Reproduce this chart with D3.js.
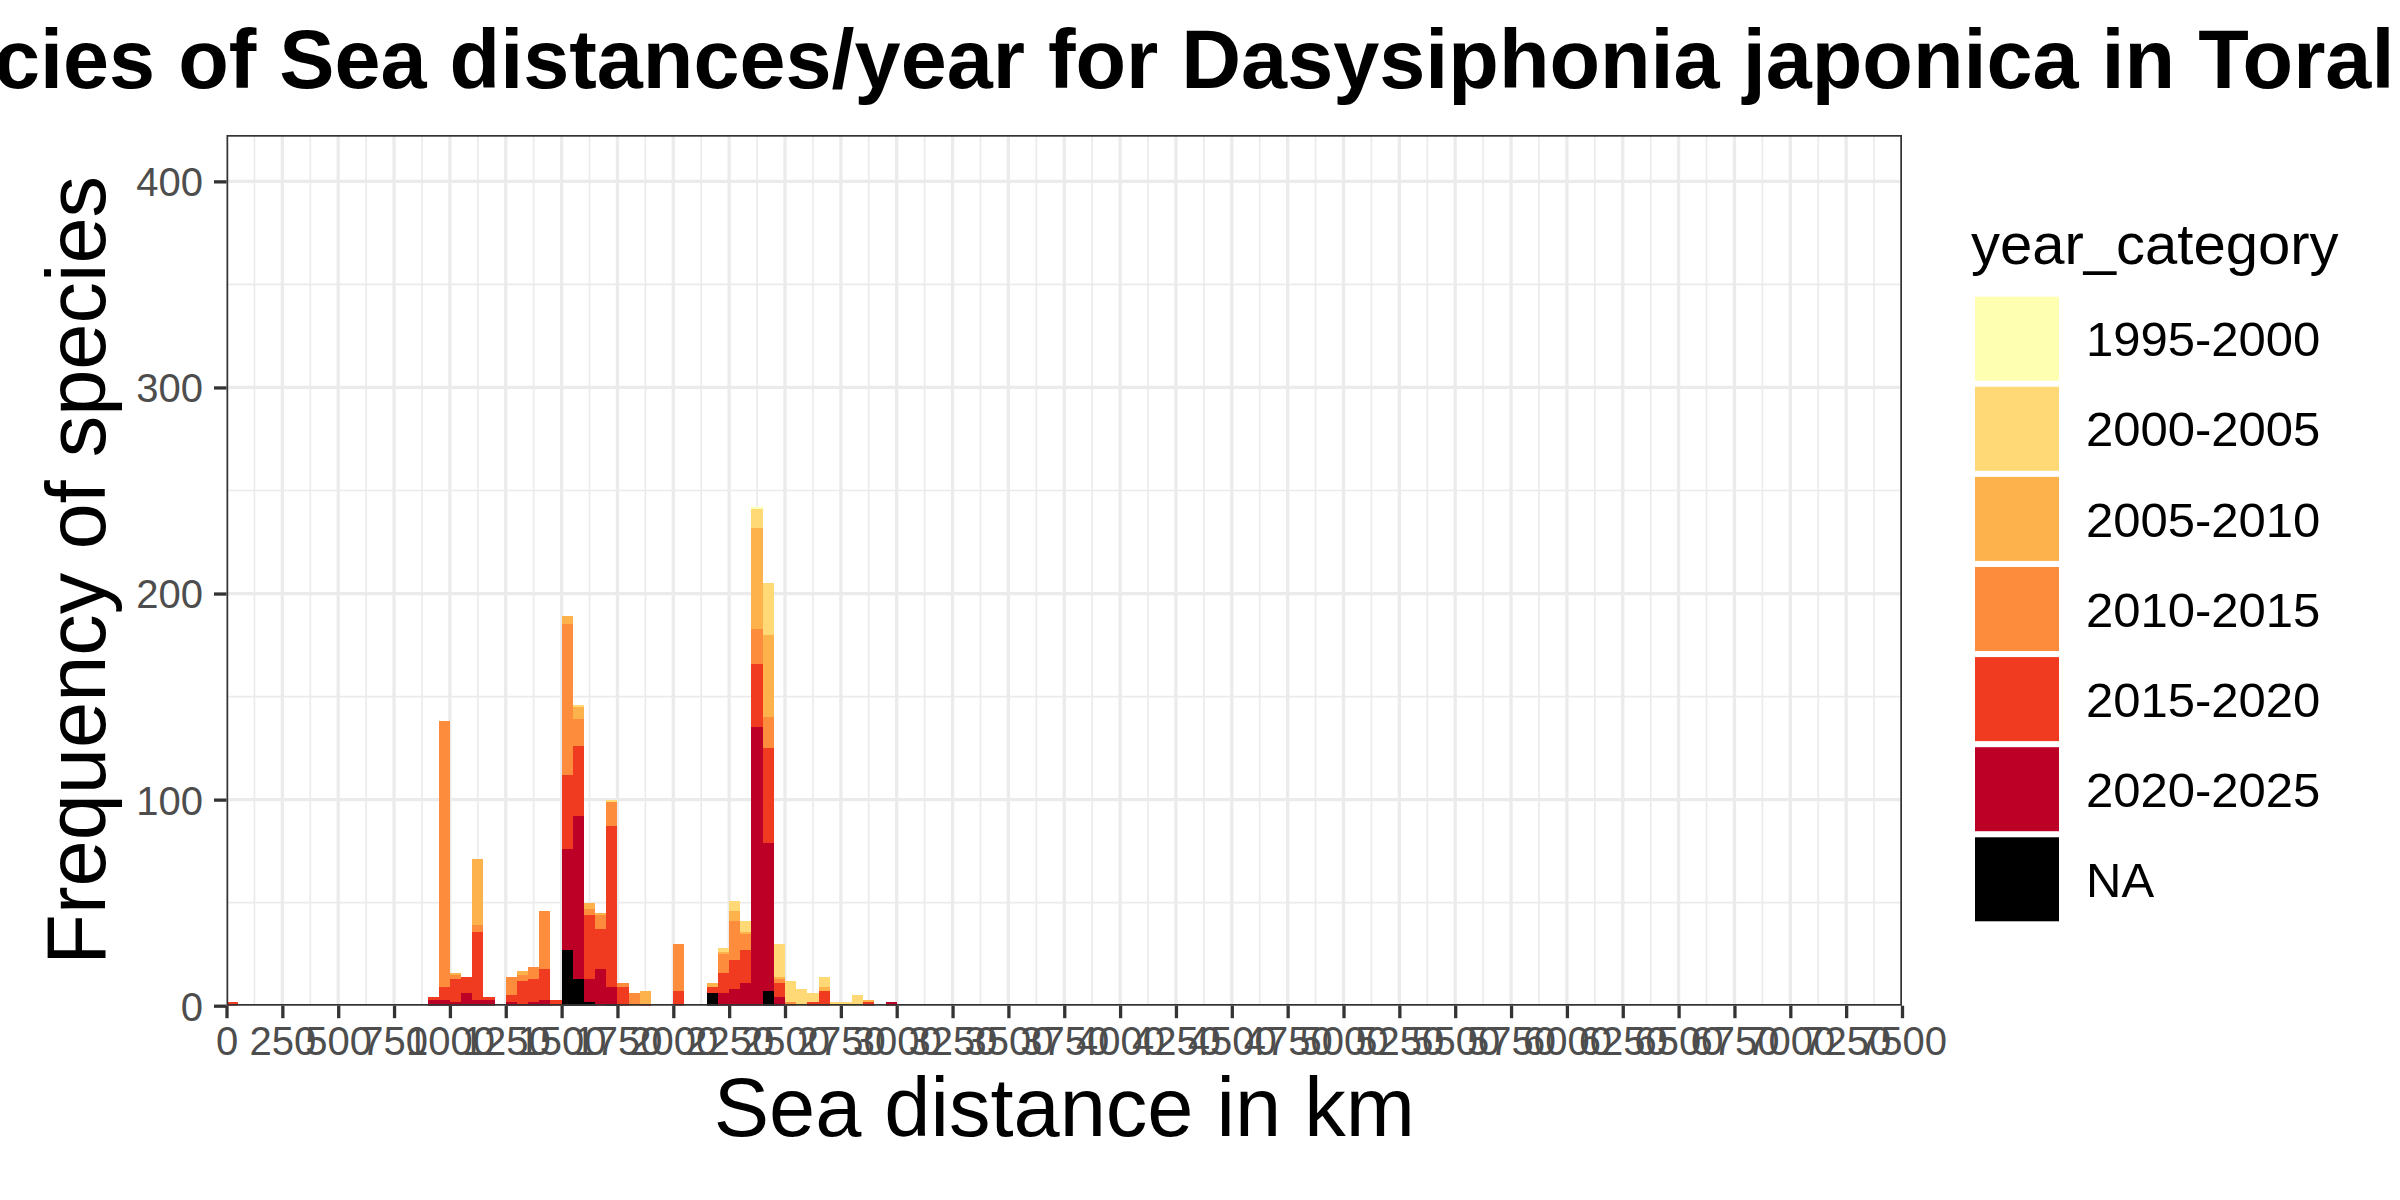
<!DOCTYPE html>
<html>
<head>
<meta charset="utf-8">
<script src="https://cdn.jsdelivr.net/npm/d3@7"></script>
<style>
  html, body { margin: 0; padding: 0; background: #ffffff; }
  svg { display: block; }
  text { font-family: "Liberation Sans", Arial, Helvetica, sans-serif; }
</style>
</head>
<body>
<svg id="chart" width="2400" height="1200"></svg>
<script>
// ---------------- DATA ----------------
const titleText = "Frequency of species of Sea distances/year for Dasysiphonia japonica in Toral de los Guzmanes";
const xTitle = "Sea distance in km";
const yTitle = "Frequency of species";
const legendTitle = "year_category";

// Legend order (top to bottom) and colours
const categories = ["1995-2000", "2000-2005", "2005-2010", "2010-2015", "2015-2020", "2020-2025", "NA"];
const categoryColors = ["#FFFFB2", "#FED976", "#FEB24C", "#FD8D3C", "#F03B20", "#BD0026", "#000000"];

// Histogram bins: left edge (km), bin width 50 km
const binWidth = 50;
const binStarts = [0, 900, 950, 1000, 1050, 1100, 1150, 1250, 1300, 1350, 1400, 1450,
  1500, 1550, 1600, 1650, 1700, 1750, 1800, 1850, 2000, 2150, 2200, 2250, 2300,
  2350, 2400, 2450, 2500, 2550, 2600, 2650, 2700, 2750, 2800, 2850, 2950];

// Counts per category for each bin (same order as binStarts)
const countsNA        = [0, 0, 0, 0, 0, 0, 0, 0, 0, 0, 0, 0, 27, 13, 2, 0, 1, 0, 0, 0, 0, 6, 0, 0, 0, 0, 7, 0, 0, 0, 0, 0, 0, 0, 0, 0, 0];
const counts2020_2025 = [0, 3, 3, 2, 6, 3, 3, 2, 1, 2, 3, 0, 49, 79, 11, 18, 8, 0, 0, 0, 0, 0, 6, 8, 11, 135, 72, 4, 0, 0, 0, 0, 0, 0, 0, 0, 2];
const counts2015_2020 = [2, 1, 6, 11, 8, 33, 1, 3, 11, 11, 15, 3, 36, 34, 31, 19, 78, 9, 0, 1, 7, 3, 10, 14, 16, 31, 46, 7, 0, 0, 2, 7, 0, 0, 0, 2, 0];
const counts2010_2015 = [0, 0, 129, 2, 0, 3, 0, 9, 3, 6, 28, 0, 73, 13, 3, 7, 12, 2, 6, 0, 23, 0, 9, 19, 8, 17, 15, 2, 2, 0, 0, 0, 0, 0, 0, 0, 0];
const counts2005_2010 = [0, 0, 0, 1, 0, 32, 0, 0, 2, 0, 0, 0, 4, 6, 3, 1, 0, 0, 0, 6, 0, 2, 1, 5, 1, 49, 40, 1, 0, 0, 0, 2, 0, 0, 0, 1, 0];
const counts2000_2005 = [0, 0, 0, 0, 0, 0, 0, 0, 0, 0, 0, 0, 0, 1, 0, 0, 1, 0, 0, 0, 0, 0, 2, 5, 5, 9, 25, 16, 10, 8, 4, 5, 2, 2, 5, 0, 0];
const counts1995_2000 = [0, 0, 0, 0, 0, 0, 0, 0, 0, 0, 0, 0, 0, 0, 0, 0, 0, 0, 0, 0, 0, 0, 0, 0, 0, 1, 0, 0, 0, 0, 0, 0, 0, 0, 0, 0, 0];

const xTicks = d3.range(0, 7501, 250);
const xMinor = d3.range(125, 7500, 250);
const yTicks = [0, 100, 200, 300, 400];
const yMinor = [50, 150, 250, 350];
const xDomain = [0, 7500];
const yDomain = [0, 422.5];

// ---------------- LAYOUT ----------------
const panel = { left: 226.5, right: 1902, top: 135, bottom: 1005.7 };
const svg = d3.select("#chart");
svg.append("rect").attr("width", 2400).attr("height", 1200).attr("fill", "#ffffff");

const x = d3.scaleLinear().domain(xDomain).range([panel.left, panel.right]);
const y = d3.scaleLinear().domain(yDomain).range([panel.bottom, panel.top]);

// Build rows for the stack
const seriesByCat = {
  "NA": countsNA, "2020-2025": counts2020_2025, "2015-2020": counts2015_2020,
  "2010-2015": counts2010_2015, "2005-2010": counts2005_2010,
  "2000-2005": counts2000_2005, "1995-2000": counts1995_2000
};
const rows = binStarts.map((b, i) => {
  const r = { bin: b };
  categories.forEach(c => { r[c] = seriesByCat[c][i]; });
  return r;
});
const stackKeys = categories.slice().reverse(); // NA at bottom, 1995-2000 on top
const stacked = d3.stack().keys(stackKeys)(rows);
const color = d3.scaleOrdinal().domain(categories).range(categoryColors);

// Clip for panel
svg.append("defs").append("clipPath").attr("id", "panelClip")
  .append("rect").attr("x", panel.left).attr("y", panel.top)
  .attr("width", panel.right - panel.left).attr("height", panel.bottom - panel.top);

const gPanel = svg.append("g").attr("clip-path", "url(#panelClip)");
const gridColor = "#EBEBEB";

// minor grid
gPanel.selectAll(".xminor").data(xMinor).enter().append("line")
  .attr("x1", d => x(d)).attr("x2", d => x(d))
  .attr("y1", panel.top).attr("y2", panel.bottom)
  .attr("stroke", gridColor).attr("stroke-width", 1.65);
gPanel.selectAll(".yminor").data(yMinor).enter().append("line")
  .attr("x1", panel.left).attr("x2", panel.right)
  .attr("y1", d => y(d)).attr("y2", d => y(d))
  .attr("stroke", gridColor).attr("stroke-width", 1.65);
// major grid
gPanel.selectAll(".xmajor").data(xTicks).enter().append("line")
  .attr("x1", d => x(d)).attr("x2", d => x(d))
  .attr("y1", panel.top).attr("y2", panel.bottom)
  .attr("stroke", gridColor).attr("stroke-width", 3.3);
gPanel.selectAll(".ymajor").data(yTicks).enter().append("line")
  .attr("x1", panel.left).attr("x2", panel.right)
  .attr("y1", d => y(d)).attr("y2", d => y(d))
  .attr("stroke", gridColor).attr("stroke-width", 3.3);

// bars
const gBars = gPanel.append("g");
stacked.forEach(layer => {
  gBars.append("g").attr("fill", color(layer.key))
    .selectAll("rect").data(layer.filter(d => d[1] > d[0])).enter().append("rect")
    .attr("x", d => x(d.data.bin))
    .attr("width", d => x(d.data.bin + binWidth) - x(d.data.bin))
    .attr("y", d => y(d[1]))
    .attr("height", d => y(d[0]) - y(d[1]))
    .attr("shape-rendering", "crispEdges");
});

// panel border
svg.append("rect")
  .attr("x", panel.left + 0.85).attr("y", panel.top + 0.85)
  .attr("width", panel.right - panel.left - 1.7).attr("height", panel.bottom - panel.top - 1.7)
  .attr("fill", "none").attr("stroke", "#333333").attr("stroke-width", 1.7);

// axes
const tickLen = 12.5;
const xAxis = d3.axisBottom(x).tickValues(xTicks).tickSize(tickLen).tickPadding(10).tickFormat(d3.format("d"));
const yAxis = d3.axisLeft(y).tickValues(yTicks).tickSize(tickLen).tickPadding(11).tickFormat(d3.format("d"));

const gx = svg.append("g").attr("transform", `translate(0,${panel.bottom})`).call(xAxis);
const gy = svg.append("g").attr("transform", `translate(${panel.left},0)`).call(yAxis);
[gx, gy].forEach(g => {
  g.select(".domain").remove();
  g.selectAll(".tick line").attr("stroke", "#333333").attr("stroke-width", 3.3);
  g.selectAll(".tick text").attr("fill", "#4D4D4D")
    .style("font-size", "40px")
    .style("font-family", '"Liberation Sans", Arial, sans-serif');
});
gx.selectAll(".tick text").attr("y", 1055 - panel.bottom).attr("dy", 0);
gy.selectAll(".tick text").attr("dy", "0.36em");

// axis titles
svg.append("text").attr("x", (panel.left + panel.right) / 2).attr("y", 1136)
  .attr("text-anchor", "middle").attr("fill", "#000").style("font-size", "83px").text(xTitle);
svg.append("text").attr("transform", `translate(105.4,${(panel.top + panel.bottom) / 2}) rotate(-90)`)
  .attr("text-anchor", "middle").attr("fill", "#000").style("font-size", "83px").text(yTitle);

// title: positioned so the visible part starts at the left edge like the reference
const titleSize = "82.8px";
const tmp = svg.append("text").style("font-size", titleSize).style("font-weight", "bold").text("Frequency of spe");
const prefixW = tmp.node().getComputedTextLength();
tmp.remove();
svg.append("text").attr("x", -6 - prefixW).attr("y", 88)
  .attr("fill", "#000").style("font-size", titleSize).style("font-weight", "bold").text(titleText);

// legend
const lg = svg.append("g");
lg.append("text").attr("x", 1971).attr("y", 264).attr("fill", "#000")
  .style("font-size", "58px").text(legendTitle);
categories.forEach((c, i) => {
  const ky = 296.7 + i * 90.1;
  lg.append("rect").attr("x", 1975).attr("y", ky).attr("width", 84).attr("height", 84)
    .attr("fill", color(c));
  lg.append("text").attr("x", 2086).attr("y", ky + 42).attr("dy", "0.36em")
    .attr("fill", "#000").style("font-size", "49px").text(c);
});
</script>
</body>
</html>
